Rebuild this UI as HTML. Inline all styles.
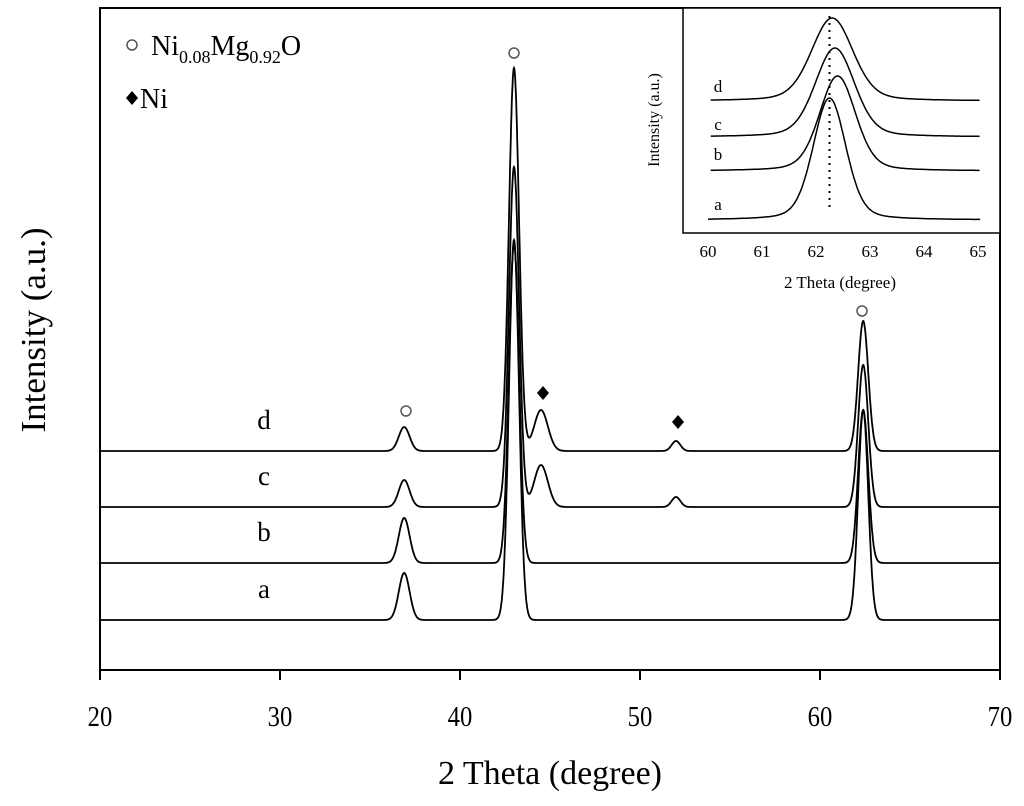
<!DOCTYPE html>
<html><head><meta charset="utf-8"><style>
html,body{margin:0;padding:0;background:#fff;}
svg{display:block;font-family:"Liberation Serif",serif;}
</style></head><body>
<svg id="chart" width="1024" height="806" viewBox="0 0 1024 806">
<g id="main"></g>
<g id="inset"></g>
</svg>
<script>
// ---- main chart data ----
const seriesNames = ["a","b","c","d"];
const baselines = [3, 60, 116, 172];           // intensity offset of each pattern
const peakPositions = [36.9, 43.0, 44.5, 52.0, 62.4];
const peakWidths = [0.3, 0.28, 0.38, 0.24, 0.28];
const peakHeightsA = [47, 380, 0, 0, 210];
const peakHeightsB = [45, 320, 0, 0, 153];
const peakHeightsC = [27, 340, 42, 10, 142];
const peakHeightsD = [24, 383, 41, 10, 130];
const xTicks = [20,30,40,50,60,70];
// ---- inset data ----
const insetTicks = [60,61,62,63,64,65];
const insetCenters = [62.25, 62.4, 62.35, 62.3];
const insetHeights = [122, 95, 89, 83];
const insetBaselines = [0, 49, 83, 119];
const insetWidths = [0.3, 0.33, 0.36, 0.38];
const dottedX = 62.25;

const NS="http://www.w3.org/2000/svg";
function mk(tag,attrs,parent){const e=document.createElementNS(NS,tag);for(const k in attrs)e.setAttribute(k,attrs[k]);parent.appendChild(e);return e;}
const main=document.getElementById('main');
const inset=document.getElementById('inset');

const X0=100,X1=1000,Y0=670,YT=8;
const xs=v=>X0+(v-20)*(X1-X0)/50;
const ys=v=>623-v;
let fr=mk('rect',{x:X0,y:YT,width:X1-X0,height:Y0-YT,fill:'none',stroke:'#000','stroke-width':2},main);

xTicks.forEach(t=>{
  let l=mk('line',{x1:xs(t),x2:xs(t),y1:Y0,y2:Y0+10,stroke:'#000','stroke-width':2},main);
  
  let tx=mk('text',{x:xs(t),y:726,'text-anchor':'middle','font-size':28,transform:`translate(${xs(t)*0.12},0) scale(0.88,1)`},main);tx.textContent=t;
  
});
let xt=mk('text',{x:550,y:784,'text-anchor':'middle','font-size':34},main);xt.textContent='2 Theta (degree)';

let yt=mk('text',{x:0,y:0,'text-anchor':'middle','font-size':35,transform:'translate(45,330) rotate(-90)'},main);yt.textContent='Intensity (a.u.)';


const allHeights=[peakHeightsA,peakHeightsB,peakHeightsC,peakHeightsD];
function patt(x,h){let s=0;for(let i=0;i<peakPositions.length;i++){const d=(x-peakPositions[i])/peakWidths[i];s+=h[i]*Math.exp(-0.5*d*d);}return s;}
seriesNames.forEach((n,si)=>{
  let d='';
  for(let x=20;x<=70.0001;x+=0.02){const v=baselines[si]+patt(x,allHeights[si]);d+=(d?'L':'M')+xs(x).toFixed(1)+','+ys(v).toFixed(1);}
  let p=mk('path',{d:d,fill:'none',stroke:'#000','stroke-width':1.8},main);
  
  let lb=mk('text',{x:264,y:ys(baselines[si])-22,'text-anchor':'middle','font-size':27},main);lb.textContent=n;
  
});
[[514,53],[406,411],[862,311]].forEach(c=>{let m=mk('circle',{cx:c[0],cy:c[1],r:5,fill:'none',stroke:'#555','stroke-width':1.5},main);
  });
[[543,393],[678,422]].forEach(c=>{let m=mk('path',{d:`M${c[0]},${c[1]-7}L${c[0]+6},${c[1]}L${c[0]},${c[1]+7}L${c[0]-6},${c[1]}Z`,fill:'#000'},main);
  });
let lc=mk('circle',{cx:132,cy:45,r:5,fill:'none',stroke:'#555','stroke-width':1.5},main);

let lt=mk('text',{x:151,y:55,'font-size':28},main);
lt.innerHTML='Ni<tspan dy="8" font-size="18">0.08</tspan><tspan dy="-8">Mg</tspan><tspan dy="8" font-size="18">0.92</tspan><tspan dy="-8">O</tspan>';

let ld=mk('path',{d:'M132,91L138,98L132,105L126,98Z',fill:'#000'},main);

let lt2=mk('text',{x:140,y:108,'font-size':28},main);lt2.textContent='Ni';


// inset
const IX0=683,IX1=1000,IY0=233,IYT=8;
const ixs=v=>708+(v-60)*54;
const iys=v=>220-v;
let ifr=mk('rect',{x:IX0,y:IYT,width:IX1-IX0,height:IY0-IYT,fill:'#fff',stroke:'#000','stroke-width':1.5},inset);

insetTicks.forEach(t=>{
  let tx=mk('text',{x:ixs(t),y:257,'text-anchor':'middle','font-size':17},inset);tx.textContent=t;
  
});
let ixt=mk('text',{x:840,y:288,'text-anchor':'middle','font-size':17},inset);ixt.textContent='2 Theta (degree)';

let iyt=mk('text',{x:0,y:0,'text-anchor':'middle','font-size':16,transform:'translate(659,120) rotate(-90)'},inset);iyt.textContent='Intensity (a.u.)';

let dl=mk('line',{x1:ixs(dottedX),x2:ixs(dottedX),y1:16,y2:208,stroke:'#000','stroke-width':2,'stroke-dasharray':'2,5'},inset);

const insetLabelY=[210,160,130,92];
seriesNames.forEach((n,si)=>{
  let d='';
  const s=si===0?60:60.05;
  for(let x=s;x<=65.05;x+=0.02){const z=(x-insetCenters[si])/insetWidths[si];const v=insetBaselines[si]+insetHeights[si]*(0.75*Math.exp(-0.5*z*z)+0.25/(1+z*z*0.6));d+=(d?'L':'M')+ixs(x).toFixed(1)+','+iys(v).toFixed(1);}
  let p=mk('path',{d:d,fill:'none',stroke:'#000','stroke-width':1.5},inset);
  
  let lb=mk('text',{x:718,y:insetLabelY[si],'text-anchor':'middle','font-size':17},inset);lb.textContent=n;
  
});
</script>
</body></html>
